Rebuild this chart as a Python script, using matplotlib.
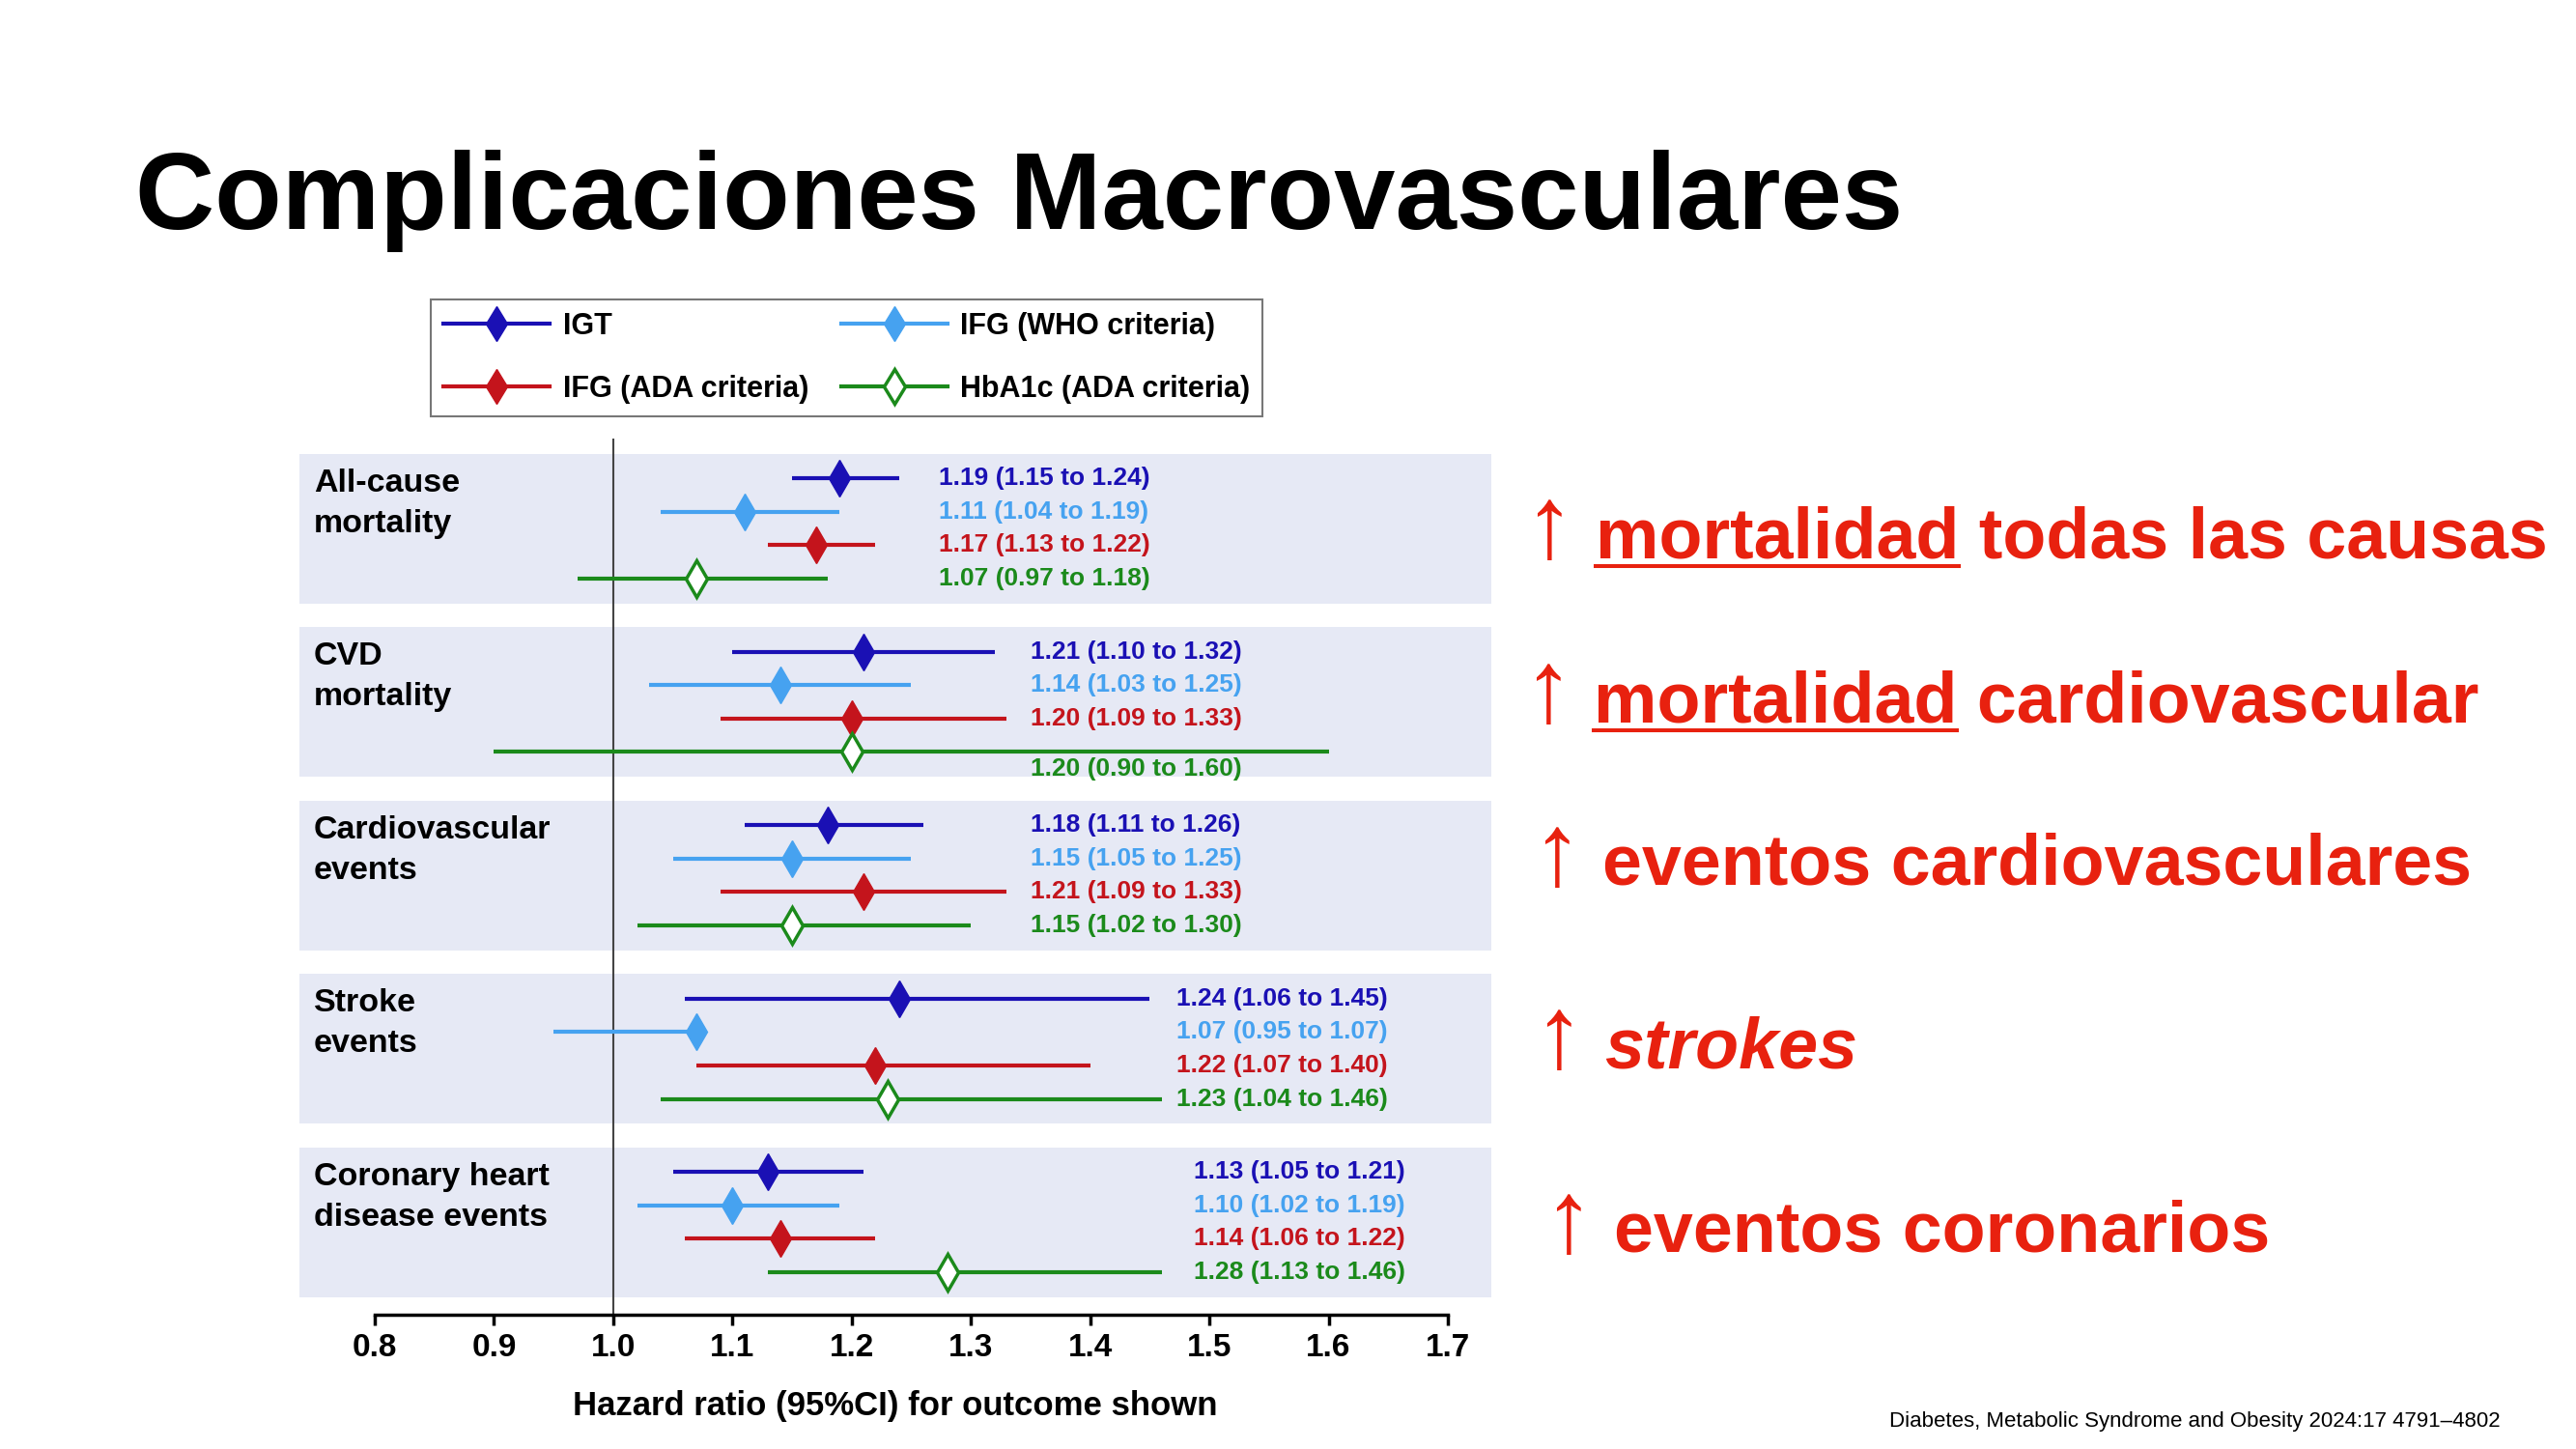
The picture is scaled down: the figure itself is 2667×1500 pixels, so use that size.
import matplotlib
matplotlib.use("Agg")
import matplotlib.pyplot as plt
from matplotlib.lines import Line2D

plt.rcParams['font.family'] = ['Liberation Sans', 'DejaVu Sans']

# ---- data ----
outcomes = [
    "All-cause\nmortality",
    "CVD\nmortality",
    "Cardiovascular\nevents",
    "Stroke\nevents",
    "Coronary heart\ndisease events",
]
series = ["IGT", "IFG (WHO criteria)", "IFG (ADA criteria)", "HbA1c (ADA criteria)"]

# rows = outcomes, columns = series
hr = [
    [1.19, 1.11, 1.17, 1.07],
    [1.21, 1.14, 1.20, 1.20],
    [1.18, 1.15, 1.21, 1.15],
    [1.24, 1.07, 1.22, 1.23],
    [1.13, 1.10, 1.14, 1.28],
]
ci_low = [
    [1.15, 1.04, 1.13, 0.97],
    [1.10, 1.03, 1.09, 0.90],
    [1.11, 1.05, 1.09, 1.02],
    [1.06, 0.95, 1.07, 1.04],
    [1.05, 1.02, 1.06, 1.13],
]
ci_high = [
    [1.24, 1.19, 1.22, 1.18],
    [1.32, 1.25, 1.33, 1.60],
    [1.26, 1.25, 1.33, 1.30],
    [1.45, 1.07, 1.40, 1.46],
    [1.21, 1.19, 1.22, 1.46],
]
x_ticks = [0.8, 0.9, 1.0, 1.1, 1.2, 1.3, 1.4, 1.5, 1.6, 1.7]

findings = [
    "mortalidad todas las causas",
    "mortalidad cardiovascular",
    "eventos cardiovasculares",
    "strokes",
    "eventos coronarios",
]
underlined = ["mortalidad", "mortalidad", None, None, None]
italic = [False, False, False, True, False]

title = "Complicaciones Macrovasculares"
source = "Diabetes, Metabolic Syndrome and Obesity 2024:17 4791\u20134802"

# ---- styles / layout ----
colors = ["#1a10b4", "#46a2f0", "#c4141c", "#1b8a1b"]
faces = ["#1a10b4", "#46a2f0", "#c4141c", "white"]
band_color = "#e6e9f5"
red = "#e8210f"
label_x = [1.273, 1.350, 1.350, 1.472, 1.487]
group_gap = 5.19


def fx(px):
    return px / 2667


def fy(py):
    return 1 - py / 1500


fig = plt.figure(figsize=(26.67, 15), dpi=100)

ax = fig.add_axes([fx(310), fy(1361), fx(1544) - fx(310), fy(454) - fy(1361)])
ax.patch.set_visible(False)

for i, name in enumerate(outcomes):
    c = i * group_gap
    ax.axhspan(c - 2.24, c + 2.24, color=band_color, lw=0, zorder=0)
    ax.text(0.0122, c - 1.8, name, transform=ax.get_yaxis_transform(),
            ha="left", va="top", fontsize=24.5, fontweight="bold",
            linespacing=1.45, zorder=4)
    for k in range(4):
        y = c + k - 1.5
        ax.plot([ci_low[i][k], ci_high[i][k]], [y, y], color=colors[k],
                lw=3, solid_capstyle="butt", zorder=2)
        ax.plot(hr[i][k], y, marker="d", ms=19, mfc=faces[k],
                mec=colors[k], mew=2.5 if k == 3 else 1, zorder=3)
        ty = y + 0.5 if (i == 1 and k == 3) else y
        ax.text(label_x[i], ty,
                f"{hr[i][k]:.2f} ({ci_low[i][k]:.2f} to {ci_high[i][k]:.2f})",
                color=colors[k], fontsize=19, fontweight="bold",
                ha="left", va="center", zorder=4)

ax.axvline(1.0, color="#444444", lw=1.5, zorder=1)

ax.set_xlim(0.7368, 1.7365)
ax.set_ylim((len(outcomes) - 1) * group_gap + 2.77, -2.69)
ax.set_yticks([])
ax.set_xticks(x_ticks)
ax.set_xticklabels([f"{t:.1f}" for t in x_ticks], fontsize=24, fontweight="bold")
ax.tick_params(axis="x", length=8, width=2.5, pad=6)
for s in ["top", "left", "right"]:
    ax.spines[s].set_visible(False)
ax.spines["bottom"].set_bounds(0.8, 1.7)
ax.spines["bottom"].set_linewidth(2.5)
ax.set_xlabel("Hazard ratio (95%CI) for outcome shown", fontsize=25,
              fontweight="bold", labelpad=20)

# legend
handles = [
    Line2D([0], [0], color=colors[k], lw=3, marker="d", ms=18,
           mfc=faces[k], mec=colors[k], mew=2.5 if k == 3 else 1)
    for k in range(4)
]
order = [0, 2, 1, 3]
leg = fig.legend([handles[j] for j in order], [series[j] for j in order],
                 ncol=2, loc="upper left", bbox_to_anchor=(fx(446), fy(310)),
                 frameon=True, fancybox=False, edgecolor="#555555",
                 prop=dict(weight="bold", size=22), handlelength=3.6,
                 handletextpad=0.45, columnspacing=1.1, labelspacing=1.15,
                 borderpad=0.42, borderaxespad=0)
leg.get_frame().set_linewidth(1.5)

# title and source
fig.text(fx(140), fy(237), title, fontsize=82, fontweight="bold",
         ha="left", va="baseline")
fig.text(fx(1956), fy(1477), source, fontsize=16, ha="left", va="baseline")

# findings in red on the right
baselines = [577, 747, 916, 1105, 1296]
arrow_x = [1603, 1602, 1611, 1613, 1623]
text_x = [1652, 1650, 1659, 1661, 1671]

renderer = fig.canvas.get_renderer()
for i, txt in enumerate(findings):
    fig.text(fx(arrow_x[i]), fy(baselines[i]), "\u2191", ha="center",
             va="baseline", fontsize=76, fontweight="bold", color=red)
    fig.text(fx(text_x[i]), fy(baselines[i]), txt, ha="left", va="baseline",
             fontsize=53, fontweight="bold", color=red,
             style="italic" if italic[i] else "normal")
    if underlined[i]:
        tmp = fig.text(0, 0, underlined[i], fontsize=53, fontweight="bold")
        w = tmp.get_window_extent(renderer).width / fig.bbox.width
        tmp.remove()
        uy = fy(baselines[i] + 9)
        fig.add_artist(Line2D([fx(text_x[i]), fx(text_x[i]) + w], [uy, uy],
                              transform=fig.transFigure, color=red, lw=2.9))

fig.savefig("out.png", dpi=100)
